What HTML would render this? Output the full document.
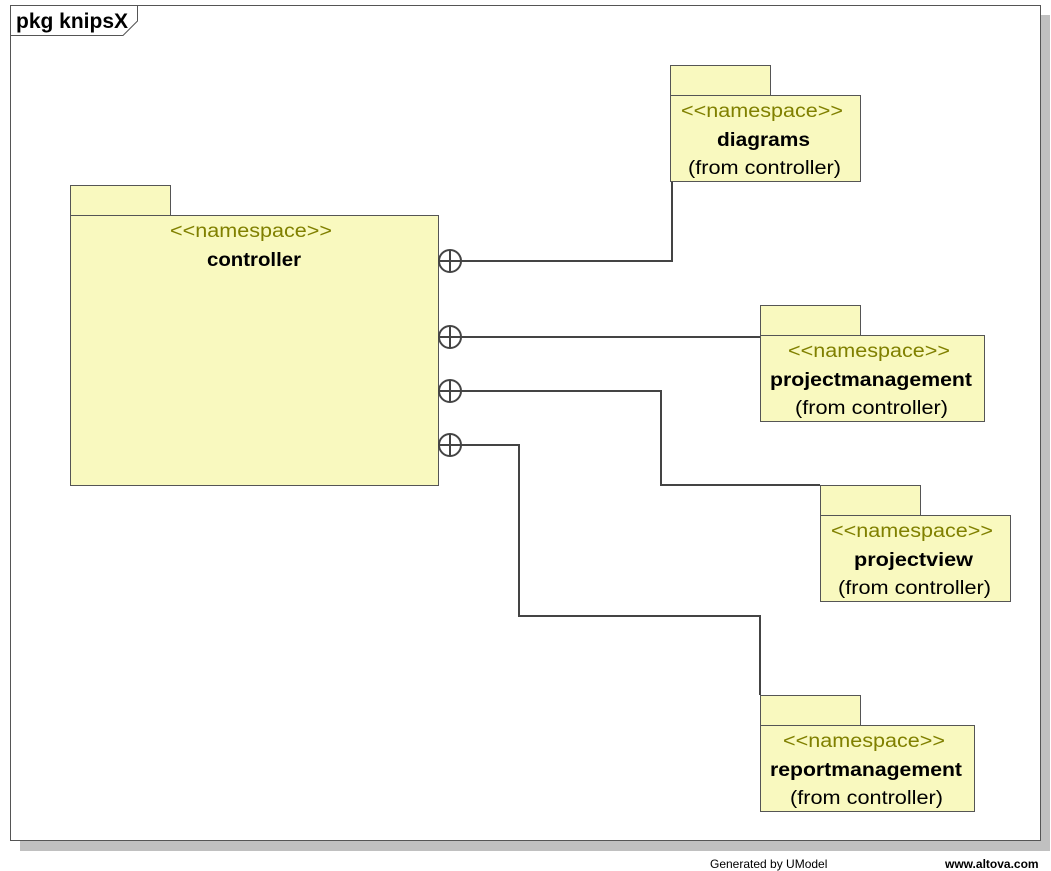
<!DOCTYPE html>
<html><head><meta charset="utf-8"><style>
html,body{margin:0;padding:0;background:#fff;}
svg{display:block;}
text{font-family:"Liberation Sans",Arial,sans-serif;}
.st{fill:#808000;font-size:19px;}
.nm{fill:#000;font-size:19px;font-weight:bold;}
.fr{fill:#000;font-size:19px;}
</style></head><body>
<svg width="1051" height="871" xmlns="http://www.w3.org/2000/svg">
<rect x="20" y="15" width="1030" height="836" fill="#c0c0c0"/>
<rect x="10.5" y="5.5" width="1030" height="835" fill="#fff" stroke="#555"/>
<path d="M10.5 35.5 H123 L137.5 21 V5.5" fill="none" stroke="#555"/>
<text x="16" y="28" font-size="21" font-weight="bold">pkg knipsX</text>
<g stroke="#444" stroke-width="2" fill="none">
<path d="M461 261H672V181"/>
<path d="M461 337H760"/>
<path d="M461 391H661V485H820"/>
<path d="M461 445H519V616H760V695"/>
</g>
<g fill="#f9f9bf" stroke="#555">
<rect x="70.5" y="185.5" width="100" height="30"/>
<rect x="70.5" y="215.5" width="368" height="270"/>
<rect x="670.5" y="65.5" width="100" height="30"/>
<rect x="670.5" y="95.5" width="190" height="86"/>
<rect x="760.5" y="305.5" width="100" height="30"/>
<rect x="760.5" y="335.5" width="224" height="86"/>
<rect x="820.5" y="485.5" width="100" height="30"/>
<rect x="820.5" y="515.5" width="190" height="86"/>
<rect x="760.5" y="695.5" width="100" height="30"/>
<rect x="760.5" y="725.5" width="214" height="86"/>
</g>
<g fill="#fff" stroke="#444" stroke-width="2">
<circle cx="450" cy="261" r="11"/><path d="M439 261H461M450 250V272"/>
<circle cx="450" cy="337" r="11"/><path d="M439 337H461M450 326V348"/>
<circle cx="450" cy="391" r="11"/><path d="M439 391H461M450 380V402"/>
<circle cx="450" cy="445" r="11"/><path d="M439 445H461M450 434V456"/>
</g>
<g lengthAdjust="spacingAndGlyphs">
<text class="st" x="170" y="237" textLength="162" lengthAdjust="spacingAndGlyphs">&lt;&lt;namespace&gt;&gt;</text>
<text class="nm" x="207" y="266" textLength="94" lengthAdjust="spacingAndGlyphs">controller</text>
<text class="st" x="681" y="117" textLength="162" lengthAdjust="spacingAndGlyphs">&lt;&lt;namespace&gt;&gt;</text>
<text class="nm" x="717" y="146" textLength="93" lengthAdjust="spacingAndGlyphs">diagrams</text>
<text class="fr" x="688" y="174" textLength="153" lengthAdjust="spacingAndGlyphs">(from controller)</text>
<text class="st" x="788" y="357" textLength="162" lengthAdjust="spacingAndGlyphs">&lt;&lt;namespace&gt;&gt;</text>
<text class="nm" x="770" y="386" textLength="202" lengthAdjust="spacingAndGlyphs">projectmanagement</text>
<text class="fr" x="795" y="414" textLength="153" lengthAdjust="spacingAndGlyphs">(from controller)</text>
<text class="st" x="831" y="537" textLength="162" lengthAdjust="spacingAndGlyphs">&lt;&lt;namespace&gt;&gt;</text>
<text class="nm" x="854" y="566" textLength="119" lengthAdjust="spacingAndGlyphs">projectview</text>
<text class="fr" x="838" y="594" textLength="153" lengthAdjust="spacingAndGlyphs">(from controller)</text>
<text class="st" x="783" y="747" textLength="162" lengthAdjust="spacingAndGlyphs">&lt;&lt;namespace&gt;&gt;</text>
<text class="nm" x="770" y="776" textLength="192" lengthAdjust="spacingAndGlyphs">reportmanagement</text>
<text class="fr" x="790" y="804" textLength="153" lengthAdjust="spacingAndGlyphs">(from controller)</text>
</g>
<text x="710" y="868" font-size="12">Generated by UModel</text>
<text x="945" y="868" font-size="12" font-weight="bold">www.altova.com</text>
</svg>
</body></html>
